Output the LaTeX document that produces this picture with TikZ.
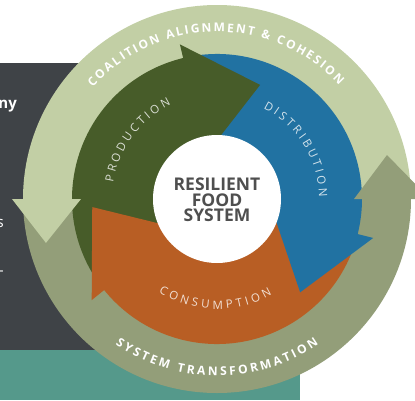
\documentclass[tikz,border=0pt]{standalone}
\usepackage{fontspec}
\setmainfont{Open Sans}
\usetikzlibrary{decorations.text}

\definecolor{panel}{HTML}{3F4347}
\definecolor{sea}{HTML}{55998B}
\definecolor{ring-light}{HTML}{C2CFA5}
\definecolor{ring-dark}{HTML}{939E79}
\definecolor{prod}{HTML}{475C29}
\definecolor{distr}{HTML}{2172A2}
\definecolor{cons}{HTML}{B85E24}
\definecolor{core-text}{HTML}{4F4F4F}

\begin{document}
\begin{tikzpicture}[x=1pt, y=1pt]
    \tikzset{
        ring-label/.style={decorate, decoration={text along path, text align={fit to path}, text color=white, text={|\fontsize{12}{14}\selectfont\bfseries|#1}}},
        part-label/.style 2 args={decorate, decoration={text along path, text align={fit to path}, text color=white!80!#2, text={|\fontsize{11.5}{13}\selectfont|#1}}},
        edge-text/.style={text=white, font=\fontsize{15}{18}\selectfont, inner sep=0pt},
    }
    \useasboundingbox (-217, -201) rectangle (198, 199);

    % Фон:
    \fill[panel] (-217, 136) rectangle (83, -151);
    \fill[sea] (-217, -151) rectangle (83, -201);
    \node[edge-text, font=\fontsize{15}{18}\selectfont\bfseries, anchor=base east] (head-tail) at (-200, 91) {ny};
    \node[edge-text, anchor=base east] (line-tail) at (-213, -28) {s};
    \node[edge-text, anchor=east] (dash-tail) at (-213, -74) {-};

    % Кольцо:
    \fill[ring-light] (0:194) arc[start angle=0, end angle=180, radius=194] -- cycle;
    \fill[ring-dark] (180:194) arc[start angle=180, end angle=360, radius=194] -- cycle;

    % Сектора (оба края прячутся под наконечниками):
    \foreach \c/\s/\e in {prod/217.4/101.5, distr/102/-15.5, cons/344.5/217.4} {
        \fill[\c] (0, 0) -- (\s:145) arc[start angle=\s, end angle=\e, radius=145] -- cycle;
    }

    % Наконечники секторов:
    \foreach \c/\b/\br/\t/\tr/\ia/\ir in {prod/103.5/159/69.3/122/95.9/52, distr/-14/161/-48.3/125/-17.5/60.5, cons/218.9/161/183.7/125/215.4/49.7} {
        \fill[\c] (0, 0) -- (\ia:\ir) -- (\t:\tr) -- (\b:\br) -- (\b:145) -- cycle;
    }

    % Наконечники кольца:
    \fill[ring-light] (180:136) -- (180:205) -- (194.4:176.6) -- cycle;
    \fill[ring-dark] (0:137) -- (0:213) -- (14.5:175.6) -- cycle;

    % Центр:
    \fill[white] (0, 0) circle[radius=64];
    \node[text=core-text, font=\fontsize{17.5}{15.5}\selectfont\bfseries, align=center] (core) at (0, -1) {RESILIENT\\FOOD\\SYSTEM};

    % Подписи:
    \path[ring-label={COALITION ALIGNMENT {\&} COHESION}] (138:167) arc[start angle=138, end angle=43, radius=167];
    \path[ring-label={SYSTEM TRANSFORMATION}] (235:177) arc[start angle=235, end angle=305, radius=177];
    \path[part-label={PRODUCTION}{prod}] (171:105) arc[start angle=171, end angle=116, radius=105];
    \path[part-label={DISTRIBUTION}{distr}] (63:102) arc[start angle=63, end angle=1, radius=102];
    \path[part-label={CONSUMPTION}{cons}] (238:110) arc[start angle=238, end angle=300, radius=110];
\end{tikzpicture}
\end{document}
